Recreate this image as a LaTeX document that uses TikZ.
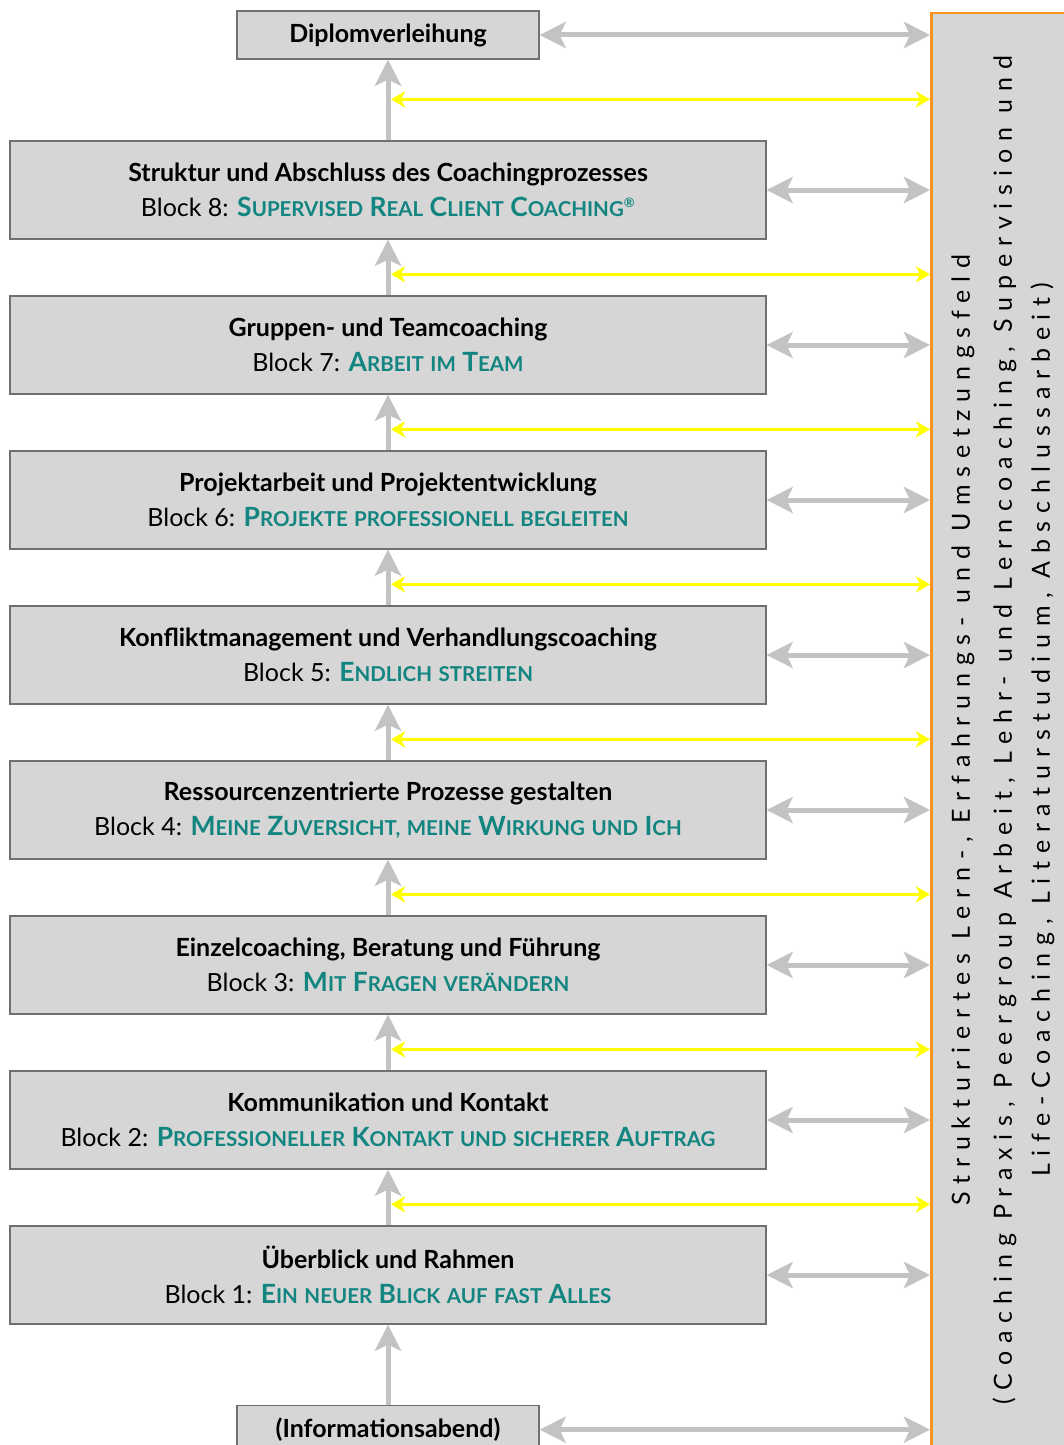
\documentclass[tikz,border=0pt]{standalone}
\usepackage{fontspec}
\setmainfont{Lato}
\newfontfamily\widefont[LetterSpace=31]{Lato}
\usetikzlibrary{arrows.meta}
\definecolor{petrol}{HTML}{138580}
\definecolor{boxfill}{HTML}{D6D6D6}
\definecolor{boxline}{HTML}{707070}
\definecolor{shaft}{HTML}{C3C3C3}
\definecolor{yellow}{HTML}{FFFF00}
\definecolor{orange}{HTML}{F7941D}
\newcommand\kap[1]{{\fontsize{20.5}{20}\selectfont\MakeUppercase{#1}}}
\tikzstyle{box}=[draw=boxline, fill=boxfill, line width=1.3pt, inner sep=0, align=center, font=\fontsize{25}{35}\selectfont]
\tikzstyle{box block}=[box, minimum width=756pt, minimum height=98pt]
\tikzstyle{box event}=[box, minimum width=302pt, minimum height=48pt, font=\fontsize{25}{25}\selectfont\bfseries]
\tikzstyle{connect up}=[line width=5pt, shaft, -{Stealth[width=26pt, length=26pt, inset=6pt]}]
\tikzstyle{connect side}=[line width=5pt, shaft, {Stealth[width=26pt, length=26pt, inset=6pt]}-{Stealth[width=26pt, length=26pt, inset=6pt]}]
\tikzstyle{connect feed}=[line width=3pt, yellow, {Stealth[width=16pt, length=14pt, inset=4pt]}-{Stealth[width=16pt, length=14pt, inset=4pt]}]
\begin{document}
\begin{tikzpicture}[x=1pt, y=-1pt]
  \useasboundingbox (0,0) rectangle (1064,1445);
  \def\NB{8}      % number of blocks
  \def\ystep{155} % distance between blocks

  % PANEL
  \node[draw=orange, fill=boxfill, line width=2.5pt, minimum width=170pt, minimum height=1470pt,
        anchor=north west, inner sep=0] (panel) at (930,12) {};
  \node[rotate=90, align=center, font=\widefont\fontsize{25}{38}\selectfont] (panel text) at (1003,730)
    {Strukturiertes Lern-, Erfahrungs- und Umsetzungsfeld\\[4pt]
     (Coaching Praxis, Peergroup Arbeit, Lehr- und Lerncoaching, Supervision und\\
     Life-Coaching, Literaturstudium, Abschlussarbeit)};

  % BLOCKS
  \foreach \i/\title/\sub [evaluate={\y=190+(\NB-\i)*\ystep;}] in {
      8/{Struktur und Abschluss des Coachingprozesses}/{S\kap{upervised} R\kap{eal} C\kap{lient} C\kap{oaching}\textsuperscript{\fontsize{13}{13}\selectfont ®}},
      7/{Gruppen- und Teamcoaching}/{A\kap{rbeit} \kap{im} T\kap{eam}},
      6/{Projektarbeit und Projektentwicklung}/{P\kap{rojekte} \kap{professionell} \kap{begleiten}},
      5/{Konfliktmanagement und Verhandlungscoaching}/{E\kap{ndlich} \kap{streiten}},
      4/{Ressourcenzentrierte Prozesse gestalten}/{M\kap{eine} Z\kap{uversicht,} \kap{meine} W\kap{irkung} \kap{und} I\kap{ch}},
      3/{Einzelcoaching, Beratung und Führung}/{M\kap{it} F\kap{ragen} \kap{verändern}},
      2/{Kommunikation und Kontakt}/{P\kap{rofessioneller} K\kap{ontakt} \kap{und} \kap{sicherer} A\kap{uftrag}},
      1/{Überblick und Rahmen}/{E\kap{in} \kap{neuer} B\kap{lick} \kap{auf} \kap{fast} A\kap{lles}}}{
    \node[box block] (B-\i) at (388,\y)
      {\textbf{\title}\\Block \i: {\color{petrol}\fontsize{26.5}{35}\selectfont\bfseries\sub}};
    \draw[connect side] (B-\i.east) -- (B-\i.east -| panel.west);
  }

  % START AND END
  \node[box event] (diplom) at (388,35) {Diplomverleihung};
  \node[box event, anchor=north] (info) at (388,1405) {(Informationsabend)};
  \draw[connect side] (diplom.east) -- (diplom.east -| panel.west);
  \draw[connect side] (info.east) -- (info.east -| panel.west);

  % UPWARD FLOW AND FEEDBACK
  \foreach \i [evaluate={\j=int(\i+1);}] in {1, ..., 7}{
    \draw[connect up] (B-\i.north) -- (B-\j.south);
    \coordinate (F-\i) at ([shift={(3,-21)}]B-\i.north);
    \draw[connect feed] (F-\i) -- (F-\i -| panel.west);
  }
  \draw[connect up] (info.north) -- (B-1.south);
  \draw[connect up] (B-8.north) -- (diplom.south);
  \coordinate (F-8) at ([shift={(3,-41)}]B-8.north);
  \draw[connect feed] (F-8) -- (F-8 -| panel.west);
\end{tikzpicture}
\end{document}
